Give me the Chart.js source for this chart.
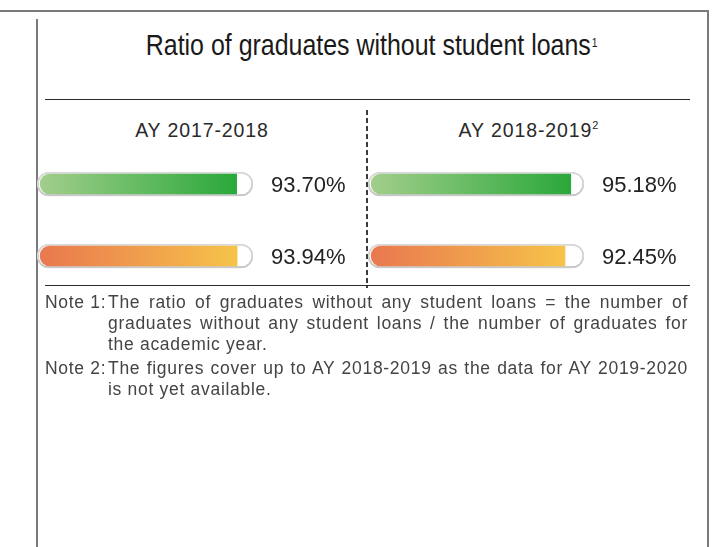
<!DOCTYPE html>
<html>
<head>
<meta charset="utf-8">
<script src="https://cdn.jsdelivr.net/npm/chart.js@4.4.1/dist/chart.umd.min.js"></script>
<style>
  html, body { margin: 0; padding: 0; background: #fff; }
  #page { position: relative; width: 719px; height: 547px; overflow: hidden; font-family: "Liberation Sans", Arial, sans-serif; color: #222; }
  .abs { position: absolute; }
  .frame { background: #7a7a7a; }
  .rule { background: #2a2a2a; height: 1px; }
  #divider { width: 2px; background: repeating-linear-gradient(to bottom, #3a3a3a 0 5px, transparent 5px 8px); }
  #title { left: 37px; width: 670px; text-align: center; font-size: 29px; line-height: 34px; color: #1a1a1a; }
  #title .cond { display: inline-block; transform: scaleX(0.86); transform-origin: center; white-space: nowrap; }
  #title sup { font-size: 12px; vertical-align: top; position: relative; top: -2px; margin-left: 1px; }
  .heading { text-align: center; font-size: 19.5px; line-height: 24px; letter-spacing: 0.9px; color: #2a2a2a; }
  .heading sup { font-size: 11px; vertical-align: top; position: relative; top: -5px; letter-spacing: 0; }
  canvas { position: absolute; }
  .note { left: 45px; width: 643px; font-size: 17.5px; line-height: 21px; color: #444; letter-spacing: 0.7px; }
  .note .lab { position: absolute; left: 0; top: 0; }
  .note .body { margin-left: 63px; }
  .note .j { text-align: justify; text-align-last: justify; }
</style>
</head>
<body>
<div id="page">
  <div class="abs frame" style="left:0;top:10px;width:709px;height:2px"></div>
  <div class="abs frame" style="left:36px;top:19px;width:2px;height:528px"></div>
  <div class="abs frame" style="left:707px;top:10px;width:2px;height:537px"></div>

  <div id="title" class="abs" style="top:28px"><span class="cond">Ratio of graduates without student loans<sup>1</sup></span></div>
  <div class="abs rule" style="left:45px;top:99px;width:645px"></div>

  <div id="head0" class="abs heading" style="left:37px;width:330px;top:118px"></div>
  <div id="head1" class="abs heading" style="left:367px;width:323px;top:118px"></div>
  <div id="divider" class="abs" style="left:366px;top:110px;height:178px"></div>

  <canvas id="chart0" width="340" height="144" style="left:30px;top:148px"></canvas>
  <canvas id="chart1" width="340" height="144" style="left:360px;top:148px"></canvas>

  <div class="abs rule" style="left:45px;top:285px;width:645px"></div>

  <div class="abs note" style="top:292px">
    <span class="lab">Note 1:</span>
    <div class="body">
      <div class="j">The ratio of graduates without any student loans = the number of</div>
      <div class="j">graduates without any student loans / the number of graduates for</div>
      <div>the academic year.</div>
    </div>
  </div>
  <div class="abs note" style="top:358px">
    <span class="lab">Note 2:</span>
    <div class="body">
      <div class="j">The figures cover up to AY 2018-2019 as the data for AY 2019-2020</div>
      <div>is not yet available.</div>
    </div>
  </div>
</div>

<script>
// Academic years shown side by side, each with two bars (green row, orange row)
const years = ['AY 2017-2018', 'AY 2018-2019'];
const yearNotes = ['', '2'];
const rows = ['green row', 'orange row'];
const ratios2017 = [93.70, 93.94];
const ratios2018 = [95.18, 92.45];
const panelValues = [ratios2017, ratios2018];

// Bar gradients, light on the left to saturated at the bar end
const rowGradients = [
  ['#a2ce8b', '#2aa83a'],
  ['#e9784f', '#f6c34a']
];

// Value axis runs a little past 0..100 so the pill track surrounds the fill
const AXIS_MIN = -1.5;
const AXIS_MAX = 101.5;

years.forEach((y, i) => {
  const el = document.getElementById('head' + i);
  el.textContent = y;
  if (yearNotes[i]) {
    const s = document.createElement('sup');
    s.textContent = yearNotes[i];
    el.appendChild(s);
  }
});

const trackShadow = {
  id: 'trackShadow',
  beforeDatasetDraw(chart, args) {
    if (args.index !== 0) return;
    const ctx = chart.ctx;
    ctx.save();
    ctx.shadowColor = 'rgba(0,0,0,0.18)';
    ctx.shadowBlur = 2;
    ctx.shadowOffsetY = 1;
  },
  afterDatasetDraw(chart, args) {
    if (args.index !== 0) return;
    chart.ctx.restore();
  }
};

const valueLabels = {
  id: 'valueLabels',
  afterDatasetsDraw(chart) {
    const ctx = chart.ctx;
    const meta = chart.getDatasetMeta(1);
    const values = chart.data.datasets[1].data;
    ctx.save();
    ctx.font = '22px "Liberation Sans", Arial, sans-serif';
    ctx.fillStyle = '#222';
    ctx.textBaseline = 'alphabetic';
    ctx.textAlign = 'left';
    meta.data.forEach((bar, i) => {
      ctx.fillText(values[i].toFixed(2) + '%', chart.chartArea.right + 18, bar.y + 8);
    });
    ctx.restore();
  }
};

function fillColor(context) {
  const chart = context.chart;
  if (!chart.chartArea) return '#999';
  const x = chart.scales.x;
  const x0 = x.getPixelForValue(0);
  const x1 = x.getPixelForValue(context.raw);
  const stops = rowGradients[context.dataIndex];
  const g = chart.ctx.createLinearGradient(x0, 0, x1, 0);
  g.addColorStop(0, stops[0]);
  g.addColorStop(1, stops[1]);
  return g;
}

function makePanel(canvasId, values, padLeft, padRight) {
  return new Chart(document.getElementById(canvasId), {
    type: 'bar',
    data: {
      labels: rows,
      datasets: [
        {
          label: 'track',
          data: rows.map(() => [AXIS_MIN, AXIS_MAX]),
          backgroundColor: '#ffffff',
          borderColor: '#d9d9d9',
          borderWidth: 2,
          borderSkipped: false,
          borderRadius: 12,
          barThickness: 24,
          grouped: false,
          order: 2
        },
        {
          label: 'ratio',
          data: values,
          backgroundColor: fillColor,
          borderWidth: 0,
          borderSkipped: false,
          borderRadius: { topLeft: 10, bottomLeft: 10, topRight: 0, bottomRight: 0 },
          barThickness: 20,
          grouped: false,
          order: 1
        }
      ]
    },
    options: {
      indexAxis: 'y',
      responsive: false,
      animation: false,
      events: [],
      layout: { padding: { left: padLeft, right: padRight, top: 0, bottom: 0 } },
      plugins: { legend: { display: false }, tooltip: { enabled: false }, title: { display: false } },
      scales: {
        x: { display: false, min: AXIS_MIN, max: AXIS_MAX },
        y: { display: false }
      }
    },
    plugins: [trackShadow, valueLabels]
  });
}

makePanel('chart0', panelValues[0], 7, 117);
makePanel('chart1', panelValues[1], 8, 116);
</script>
</body>
</html>
